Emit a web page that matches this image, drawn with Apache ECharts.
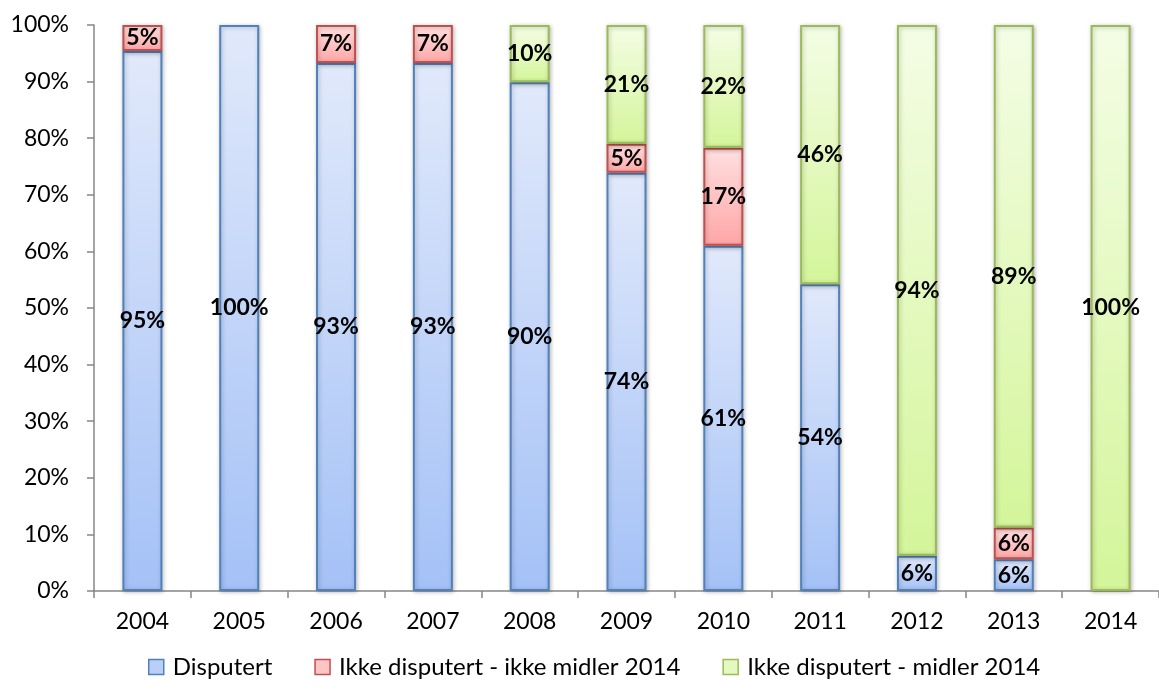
<!DOCTYPE html>
<html>
<head>
<meta charset="utf-8">
<script src="https://cdn.jsdelivr.net/npm/echarts@6/dist/echarts.min.js"></script>
<style>html,body{margin:0;padding:0;background:#fff}#c{width:1159px;height:690px}</style>
</head>
<body>
<div id="c"></div>
<script>
const categories = ['2004','2005','2006','2007','2008','2009','2010','2011','2012','2013','2014'];
const disputert = [95.4, 100, 93.3, 93.3, 89.9, 73.9, 61.0, 54.2, 6.25, 5.6, 0];
const ikkeIkkeMidler = [4.6, 0, 6.7, 6.7, 0, 5.1, 17.3, 0, 0, 5.6, 0];
const ikkeMidler = [0, 0, 0, 0, 10.1, 21.0, 21.7, 45.8, 93.75, 88.8, 100];
const yTicks = [0,10,20,30,40,50,60,70,80,90,100];
const seriesNames = ['Disputert', 'Ikke disputert - ikke midler 2014', 'Ikke disputert - midler 2014'];

const FONT = 'Lato, "Open Sans", sans-serif';
function grad(top, bottom){
  return new echarts.graphic.LinearGradient(0,0,0,1,[{offset:0,color:top},{offset:1,color:bottom}]);
}
const styles = [
  {fill: grad('#e1e9fb','#a4c1f6'), border:'#4f81bd', legend:'#b9cff7'},
  {fill: grad('#ffe0e0','#ffa6a6'), border:'#c0504d', legend:'#ffc4c4'},
  {fill: grad('#f4fde5','#d4f59a'), border:'#9bbb59', legend:'#e4f9c0'}
];
const dataSets = [disputert, ikkeIkkeMidler, ikkeMidler];

const series = dataSets.map((d,i)=>({
  name: seriesNames[i],
  type: 'bar',
  stack: 'total',
  barWidth: 40,
  data: d.map(v => v > 0 ? v : '-'),
  itemStyle: {color: styles[i].fill, borderColor: styles[i].border, borderWidth: 2,
    shadowColor:'rgba(0,0,0,0.25)', shadowBlur:4, shadowOffsetX:1, shadowOffsetY:1},
  label: {
    show: true, position: 'inside', color: '#000', fontFamily: FONT,
    fontWeight: 'bold', fontSize: 23,
    formatter: p => p.value > 0 ? Math.round(p.value) + '%' : ''
  }
}));

const chart = echarts.init(document.getElementById('c'));
chart.setOption({
  animation: false,
  backgroundColor: '#fff',
  grid: {left: 94, right: -14, top: 25, bottom: 99},
  legend: {
    top: 650, left: 143, itemWidth: 15, itemHeight: 15, itemGap: 42,
    icon: 'rect',
    textStyle: {fontFamily: FONT, fontSize: 24, color: '#000', padding:[0,0,0,4]},
    data: seriesNames.map((n,i)=>({name:n, itemStyle:{color:styles[i].legend, borderColor:styles[i].border, borderWidth:1.5, shadowBlur:0}}))
  },
  xAxis: {
    type: 'category', data: categories,
    axisLine: {lineStyle: {color: '#868686', width: 1.5}},
    axisTick: {show: true, alignWithLabel: false, length: 7, lineStyle:{color:'#868686', width:1.5}},
    axisLabel: {color: '#000', fontFamily: FONT, fontSize: 23, margin: 19}
  },
  yAxis: {
    type: 'value', min: 0, max: 100, interval: 10,
    axisLine: {show: true, lineStyle: {color: '#868686', width: 1.5}},
    axisTick: {show: true, length: 7, lineStyle:{color:'#868686', width:1.5}},
    splitLine: {show: false},
    axisLabel: {color: '#000', fontFamily: FONT, fontSize: 23, margin: 25,
      formatter: v => yTicks.includes(v) ? v + '%' : ''}
  },
  series: series
});
</script>
</body>
</html>
